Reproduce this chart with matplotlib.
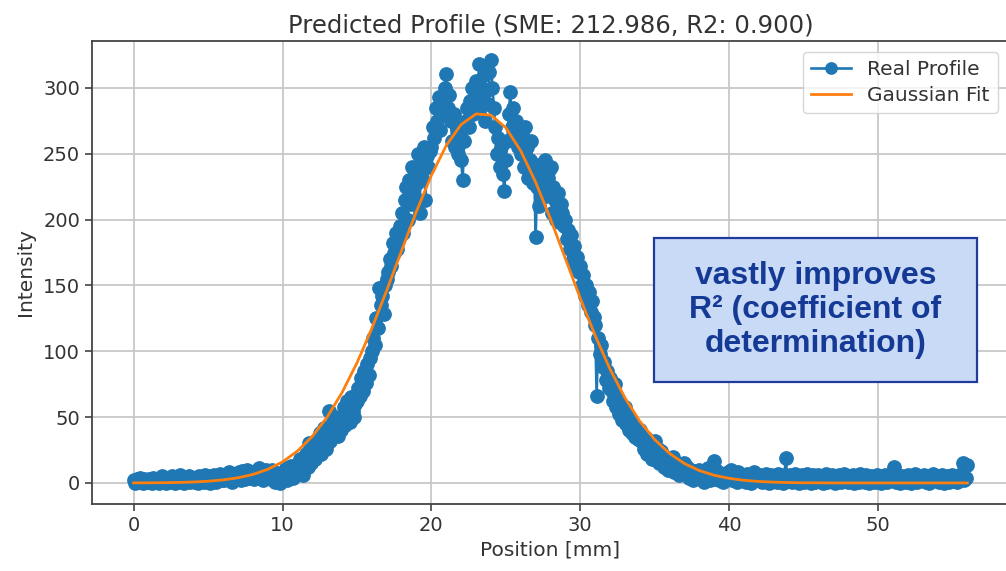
import numpy as np
import matplotlib
matplotlib.use("Agg")
import matplotlib.pyplot as plt
from matplotlib.patches import Rectangle

# ---- data ----
step_mm = 0.1
real_intensity = [
    2, 0, 3, 1, 4, 2, 0, 3, 1, 2,
    3, 1, 0, 4, 2, 1, 3, 0, 2, 5,
    1, 3, 0, 2, 4, 1, 5, 2, 0, 3,
    2, 6, 1, 3, 0, 4, 2, 5, 1, 3,
    4, 1, 3, 0, 5, 2, 4, 1, 6, 2,
    3, 0, 5, 2, 6, 1, 4, 3, 7, 2,
    5, 2, 6, 3, 8, 4, 1, 7, 3, 6,
    4, 8, 2, 9, 5, 3, 10, 6, 4, 8,
    6, 3, 9, 5, 11, 4, 8, 2, 7, 10,
    5, 8, 3, 10, 6, 1, 7, 4, 0, 5,
    8, 3, 11, 2, 9, 6, 13, 4, 10, 7,
    14, 8, 18, 11, 6, 16, 22, 12, 30, 15,
    20, 28, 18, 33, 24, 38, 22, 30, 42, 26,
    35, 55, 32, 45, 38, 50, 42, 36, 48, 40,
    48, 58, 44, 62, 52, 46, 65, 55, 50, 60,
    62, 72, 66, 80, 70, 85, 76, 90, 82, 95,
    100, 110, 105, 125, 118, 148, 135, 142, 128, 150,
    155, 160, 170, 165, 182, 175, 190, 178, 186, 195,
    205, 190, 215, 225, 200, 230, 212, 240, 218, 235,
    228, 250, 205, 245, 232, 255, 215, 248, 240, 252,
    255, 270, 262, 285, 275, 293, 268, 280, 290, 300,
    311, 285, 295, 275, 260, 280, 255, 270, 250, 265,
    245, 230, 260, 275, 285, 270, 290, 300, 280, 295,
    305, 285, 318, 292, 300, 310, 275, 298, 288, 312,
    321, 300, 285, 270, 250, 262, 240, 255, 235, 222,
    245, 260, 280, 297, 270, 285, 265, 275, 255, 268,
    250, 265, 240, 270, 255, 232, 245, 260, 228, 242,
    187, 225, 210, 235, 240, 220, 245, 218, 232, 238,
    240, 205, 225, 215, 200, 220, 198, 212, 205, 195,
    200, 185, 192, 178, 188, 170, 180, 165, 172, 160,
    165, 150, 158, 142, 150, 135, 145, 130, 138, 126,
    120, 66, 110, 98, 105, 88, 92, 78, 85, 72,
    80, 70, 62, 75, 58, 65, 52, 60, 48, 55,
    58, 45, 50, 40, 46, 38, 44, 35, 42, 33,
    40, 32, 36, 26, 34, 22, 30, 25, 18, 28,
    32, 22, 26, 15, 24, 18, 12, 20, 14, 10,
    18, 12, 20, 8, 15, 10, 6, 14, 9, 12,
    15, 8, 12, 4, 10, 6, 2, 9, 5, 7,
    10, 3, 7, 1, 8, 4, 11, 2, 6, 3,
    17, 5, 9, 2, 7, 4, 1, 6, 3, 8,
    4, 10, 2, 7, 5, 1, 8, 3, 6, 2,
    5, 1, 7, 3, 6, 0, 4, 8, 2, 5,
    3, 6, 1, 5, 2, 7, 4, 0, 6, 3,
    2, 5, 1, 7, 3, 6, 0, 4, 19, 5,
    3, 6, 1, 4, 7, 2, 5, 0, 3, 6,
    1, 4, 7, 2, 5, 0, 6, 3, 1, 4,
    6, 2, 5, 0, 3, 7, 1, 4, 2, 6,
    3, 0, 5, 2, 6, 1, 4, 7, 2, 5,
    1, 4, 2, 6, 0, 3, 5, 1, 7, 2,
    4, 1, 6, 3, 0, 5, 2, 4, 1, 6,
    3, 5, 0, 4, 2, 6, 1, 3, 5, 2,
    4, 12, 1, 6, 3, 0, 5, 2, 4, 1,
    6, 3, 0, 5, 2, 7, 1, 4, 3, 5,
    2, 6, 1, 4, 0, 5, 3, 7, 2, 4,
    5, 1, 3, 6, 0, 4, 2, 5, 1, 3,
    6, 2, 4, 1, 5, 3, 7, 15, 2, 4,
    14,
]
real_position = [round(i * step_mm, 1) for i in range(len(real_intensity))]

fit_position = list(range(0, 57))
fit_intensity = [
    0.05, 0.09, 0.19, 0.37, 0.69, 1.3, 2.3, 3.9, 6.4, 10.3,
    16.0, 24.2, 35.4, 50.1, 68.7, 91.2, 117.4, 146.3, 176.5, 206.4,
    233.7, 256.4, 272.3, 280.3, 279.4, 269.8, 252.3, 228.5, 200.5, 170.4,
    140.3, 111.9, 86.4, 64.7, 46.8, 32.9, 22.4, 14.7, 9.4, 5.8,
    3.5, 2.0, 1.1, 0.6, 0.3, 0.1, 0.1, 0.0, 0.0, 0.0,
    0.0, 0.0, 0.0, 0.0, 0.0, 0.0, 0.0,
]

title_text = "Predicted Profile (SME: 212.986, R2: 0.900)"
x_label = "Position [mm]"
y_label = "Intensity"
x_ticks = [0, 10, 20, 30, 40, 50]
y_ticks = [0, 50, 100, 150, 200, 250, 300]
note_text = "vastly improves\nR\u00b2 (coefficient of\ndetermination)"

# ---- figure ----
W, H = 1006, 571
fig = plt.figure(figsize=(W / 100, H / 100), dpi=100)
ax = fig.add_axes([92 / W, 1 - 504 / H, (1009 - 92) / W, (504 - 41) / H])

fs_tick = 14.0
fs_lab = 14.5
ax.plot(real_position, real_intensity, "-o", color="#1f77b4", lw=1.9,
        markersize=9.6, label="Real Profile", zorder=2)
ax.plot(fit_position, fit_intensity, "-", color="#ff7f0e", lw=2.0,
        label="Gaussian Fit", zorder=3)

ax.set_xlim(-2.8, 58.8)
ax.set_ylim(-16, 335.7)
ax.set_xticks(x_ticks)
ax.set_yticks(y_ticks)
ax.tick_params(labelsize=fs_tick, colors="#333333", length=5, width=1.1)
for s in ax.spines.values():
    s.set_color("#444444")
    s.set_linewidth(1.3)
ax.grid(True, color="#c8c8c8", lw=1.3)
ax.set_axisbelow(True)

ax.set_title(title_text, fontsize=17.5, color="#333333", pad=6)
ax.set_xlabel(x_label, fontsize=fs_lab, color="#333333", labelpad=4)
ax.set_ylabel(y_label, fontsize=fs_lab, color="#333333", labelpad=6)

leg = ax.legend(loc="upper right", fontsize=fs_lab, framealpha=0.8,
                borderaxespad=0.55, handlelength=2.0, borderpad=0.4,
                labelspacing=0.35, markerscale=0.85)
leg.get_frame().set_edgecolor("#cccccc")
for t in leg.get_texts():
    t.set_color("#333333")

# annotation box (pixel positions converted to figure fraction)
bx0, bx1, by0, by1 = 654, 977, 238, 382
fig.patches.append(Rectangle((bx0 / W, 1 - by1 / H), (bx1 - bx0) / W,
                             (by1 - by0) / H, transform=fig.transFigure,
                             facecolor="#c9daf6", edgecolor="#1f3c9c",
                             lw=1.6, zorder=5))
fig.text((bx0 + bx1) / 2 / W, 1 - (by0 + by1) / 2 / H, note_text,
         ha="center", va="center", fontsize=23, fontweight="bold",
         family="Liberation Sans", color="#153a96", linespacing=1.18,
         zorder=6)

fig.savefig("out.png", dpi=100)
